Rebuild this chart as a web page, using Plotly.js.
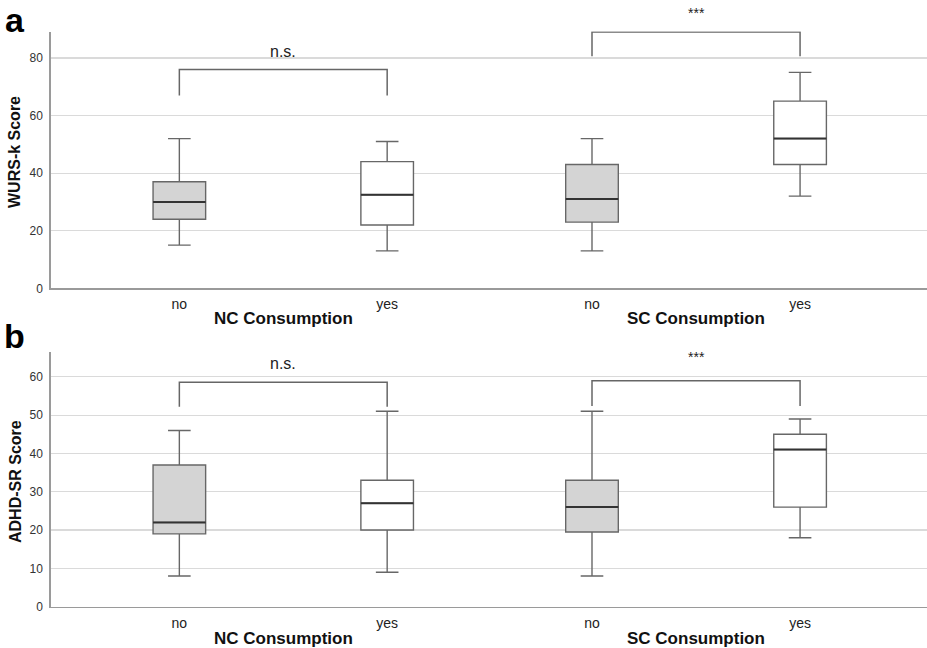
<!DOCTYPE html>
<html>
<head>
<meta charset="utf-8">
<script src="https://cdn.plot.ly/plotly-3.0.1.min.js"></script>
<style>html,body{margin:0;padding:0;background:#fff;}#chart{width:927px;height:648px;}</style>
</head>
<body>
<div id="chart"></div>
<script>
// ---- data ----
const categories = ['no', 'yes'];

// Panel a: WURS-k Score
const wursNC_low  = [15, 13];
const wursNC_q1   = [24, 22];
const wursNC_med  = [30, 32.5];
const wursNC_q3   = [37, 44];
const wursNC_high = [52, 51];

const wursSC_low  = [13, 32];
const wursSC_q1   = [23, 43];
const wursSC_med  = [31, 52];
const wursSC_q3   = [43, 65];
const wursSC_high = [52, 75];

// Panel b: ADHD-SR Score
const adhdNC_low  = [8, 9];
const adhdNC_q1   = [19, 20];
const adhdNC_med  = [22, 27];
const adhdNC_q3   = [37, 33];
const adhdNC_high = [46, 51];

const adhdSC_low  = [8, 18];
const adhdSC_q1   = [19.5, 26];
const adhdSC_med  = [26, 41];
const adhdSC_q3   = [33, 45];
const adhdSC_high = [51, 49];

// significance brackets (order: a-NC, a-SC, b-NC, b-SC)
const sigLabels  = ['n.s.', '***', 'n.s.', '***'];
const bracketTop = [76, 89, 58.6, 59];
const bracketLeg = [67, 80.6, 52.2, 52.4];
const sigLabelY  = [82.4, 95.6, 63.5, 65.2];

// ---- styling ----
const FONT = 'Liberation Sans, Arial, sans-serif';
const fills = ['#d4d4d4', '#ffffff'];
const boxW = 0.253;

const traces = [];
function addPanel(xa, ya, low, q1, med, q3, high) {
  for (let i = 0; i < categories.length; i++) {
    traces.push({
      type: 'box', xaxis: xa, yaxis: ya,
      x: [categories[i]],
      lowerfence: [low[i]], q1: [q1[i]], median: [med[i]], q3: [q3[i]], upperfence: [high[i]],
      width: boxW, whiskerwidth: 0.43,
      fillcolor: fills[i],
      line: {color: '#676767', width: 1.4},
      hoverinfo: 'skip', showlegend: false
    });
    // darker median line overlay
    traces.push({
      type: 'box', xaxis: xa, yaxis: ya,
      x: [categories[i]],
      lowerfence: [med[i]], q1: [med[i]], median: [med[i]], q3: [med[i]], upperfence: [med[i]],
      width: boxW, whiskerwidth: 0,
      fillcolor: 'rgba(0,0,0,0)',
      line: {color: '#333333', width: 2},
      hoverinfo: 'skip', showlegend: false
    });
  }
}
addPanel('x', 'y', wursNC_low, wursNC_q1, wursNC_med, wursNC_q3, wursNC_high);
addPanel('x2', 'y', wursSC_low, wursSC_q1, wursSC_med, wursSC_q3, wursSC_high);
addPanel('x3', 'y2', adhdNC_low, adhdNC_q1, adhdNC_med, adhdNC_q3, adhdNC_high);
addPanel('x4', 'y2', adhdSC_low, adhdSC_q1, adhdSC_med, adhdSC_q3, adhdSC_high);

// brackets
const bx = [['x','y'], ['x2','y'], ['x3','y2'], ['x4','y2']];
const yRanges = {y: [0, 89.2], y2: [0, 66.4]};
const yDomains = {y: [288.3, 31.5], y2: [606.7, 352.3]}; // pixel bottom, top
const H = 648;
const py = v => 1 - v / H;

const annotations = [];
for (let k = 0; k < 4; k++) {
  traces.push({
    type: 'scatter', mode: 'lines', xaxis: bx[k][0], yaxis: bx[k][1],
    x: [categories[0], categories[0], categories[1], categories[1]],
    y: [bracketLeg[k], bracketTop[k], bracketTop[k], bracketLeg[k]],
    line: {color: '#666666', width: 1.5},
    hoverinfo: 'skip', showlegend: false
  });
  // convert label y (data value) to paper so labels above the range still show
  const r = yRanges[bx[k][1]], d = yDomains[bx[k][1]];
  const pix = d[0] - (sigLabelY[k] - r[0]) / (r[1] - r[0]) * (d[0] - d[1]);
  annotations.push({
    xref: bx[k][0], yref: 'paper', x: 0.5, y: py(pix),
    text: sigLabels[k], showarrow: false, yanchor: 'middle',
    font: {family: FONT, size: sigLabels[k] === '***' ? 14 : 16, color: '#222'}
  });
}

// axis titles and panel letters
annotations.push(
  {xref: 'x', yref: 'paper', x: 0.5, y: py(318), text: 'NC Consumption', showarrow: false, yanchor: 'middle',
   font: {family: FONT, size: 17, color: '#111', weight: 'bold'}},
  {xref: 'x2', yref: 'paper', x: 0.5, y: py(318), text: 'SC Consumption', showarrow: false, yanchor: 'middle',
   font: {family: FONT, size: 17, color: '#111', weight: 'bold'}},
  {xref: 'x3', yref: 'paper', x: 0.5, y: py(638), text: 'NC Consumption', showarrow: false, yanchor: 'middle',
   font: {family: FONT, size: 17, color: '#111', weight: 'bold'}},
  {xref: 'x4', yref: 'paper', x: 0.5, y: py(638), text: 'SC Consumption', showarrow: false, yanchor: 'middle',
   font: {family: FONT, size: 17, color: '#111', weight: 'bold'}},
  {xref: 'paper', yref: 'paper', x: 15 / 927, y: py(152), text: 'WURS-k Score', textangle: -90, showarrow: false,
   xanchor: 'center', yanchor: 'middle', font: {family: FONT, size: 16, color: '#111', weight: 'bold'}},
  {xref: 'paper', yref: 'paper', x: 15 / 927, y: py(482), text: 'ADHD-SR Score', textangle: -90, showarrow: false,
   xanchor: 'center', yanchor: 'middle', font: {family: FONT, size: 16, color: '#111', weight: 'bold'}},
  {xref: 'paper', yref: 'paper', x: 15 / 927, y: py(20), text: 'a', showarrow: false,
   xanchor: 'center', yanchor: 'middle', font: {family: FONT, size: 34, color: '#000', weight: 'bold'}},
  {xref: 'paper', yref: 'paper', x: 15 / 927, y: py(336), text: 'b', showarrow: false,
   xanchor: 'center', yanchor: 'middle', font: {family: FONT, size: 34, color: '#000', weight: 'bold'}}
);

const xLeft = [50.5 / 927, 489 / 927];
const xRight = [489 / 927, 1];
const xCommon = {
  type: 'category', categoryorder: 'array', categoryarray: categories,
  showline: true, linecolor: '#9a9a9a', linewidth: 1.2,
  showgrid: false, zeroline: false, ticks: '', fixedrange: true, ticklabelstandoff: 3,
  tickfont: {family: FONT, size: 14, color: '#222'}
};
const yCommon = {
  showline: true, linecolor: '#9a9a9a', linewidth: 1.2,
  showgrid: true, gridcolor: '#dadada', gridwidth: 1.2,
  zeroline: false, ticks: '', ticklabelstandoff: 4,
  tickfont: {family: FONT, size: 12, color: '#333'}
};

const layout = {
  width: 927, height: 648,
  margin: {l: 0, r: 0, t: 0, b: 0},
  paper_bgcolor: '#fff', plot_bgcolor: '#fff',
  boxmode: 'overlay', showlegend: false,
  font: {family: FONT},
  xaxis:  Object.assign({}, xCommon, {domain: xLeft,  anchor: 'y',  range: [-0.62, 1.49]}),
  xaxis2: Object.assign({}, xCommon, {domain: xRight, anchor: 'y',  range: [-0.495, 1.61]}),
  xaxis3: Object.assign({}, xCommon, {domain: xLeft,  anchor: 'y2', range: [-0.62, 1.49]}),
  xaxis4: Object.assign({}, xCommon, {domain: xRight, anchor: 'y2', range: [-0.495, 1.61]}),
  yaxis:  Object.assign({}, yCommon, {domain: [py(yDomains.y[0]), py(yDomains.y[1])], anchor: 'x', range: yRanges.y, tickvals: [0, 20, 40, 60, 80]}),
  yaxis2: Object.assign({}, yCommon, {domain: [py(yDomains.y2[0]), py(yDomains.y2[1])], anchor: 'x3', range: yRanges.y2, tickvals: [0, 10, 20, 30, 40, 50, 60]}),
  annotations: annotations
};

Plotly.newPlot('chart', traces, layout, {displayModeBar: false, staticPlot: true});
</script>
</body>
</html>
